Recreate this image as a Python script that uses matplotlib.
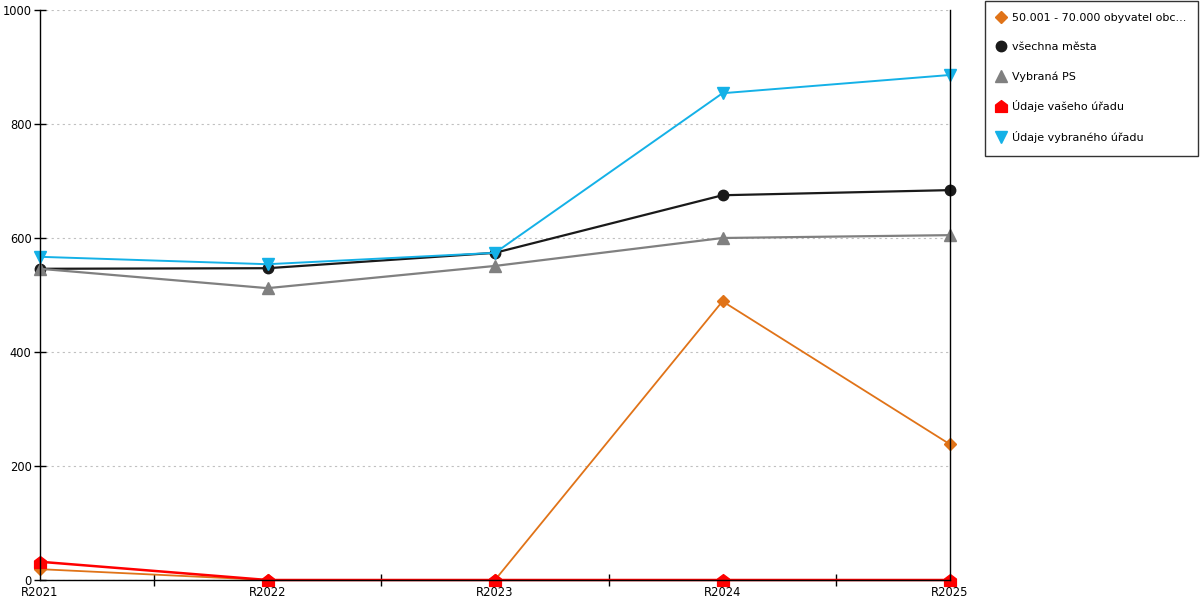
import matplotlib.pyplot as plt
from matplotlib.path import Path
from matplotlib.ticker import FixedLocator

plt.rcParams['font.family'] = ['DejaVu Sans']

years = ["R2021", "R2022", "R2023", "R2024", "R2025"]

obyvatel = [19, 0, 0, 489, 238]
vsechna_mesta = [546, 547, 574, 675, 684]
vybrana_ps = [546, 512, 551, 600, 605]
vas_urad = [32, 0, 0, 0, 0]
vybrany_urad = [567, 554, 574, 854, 886]

labels = ["50.001 - 70.000 obyvatel obc...", "všechna města", "Vybraná PS",
          "Údaje vašeho úřadu", "Údaje vybraného úřadu"]

# house-shaped marker for the red series
house = Path([(-1, -1), (1, -1), (1, 0.25), (0, 1), (-1, 0.25), (-1, -1)],
             [Path.MOVETO, Path.LINETO, Path.LINETO, Path.LINETO, Path.LINETO, Path.CLOSEPOLY])

fig = plt.figure(figsize=(12, 6), dpi=100)
ax = fig.add_axes([40 / 1200, 20 / 600, 910 / 1200, 570 / 600])

x = list(range(len(years)))
series = [
    (obyvatel, "#E07318", "D", 6, 1.3),
    (vsechna_mesta, "#1a1a1a", "o", 7.5, 1.6),
    (vybrana_ps, "#808080", "^", 8, 1.6),
    (vas_urad, "#FF0000", house, 8.5, 1.8),
    (vybrany_urad, "#14B1E7", "v", 8.5, 1.4),
]
for (vals, col, mk, ms, lw), lab in zip(series, labels):
    ax.plot(x, vals, color=col, marker=mk, markersize=ms, linewidth=lw,
            label=lab, clip_on=False)

ax.set_xlim(0, 4)
ax.set_ylim(0, 1000)
ax.set_xticks(x)
ax.set_xticklabels(years, fontsize=8.3)
ax.xaxis.set_minor_locator(FixedLocator([0.5, 1.5, 2.5, 3.5]))
ax.set_yticks([0, 200, 400, 600, 800, 1000])
ax.tick_params(axis='y', labelsize=8.3, direction='inout', length=8, width=1, pad=2)
ax.tick_params(axis='x', which='major', length=0, pad=4)
ax.tick_params(axis='x', which='minor', direction='inout', length=8, width=1)
ax.grid(axis='y', color='#c0c0c0', linestyle=(0, (2, 3)), linewidth=0.8)
ax.spines['top'].set_visible(False)
for s in ['left', 'right', 'bottom']:
    ax.spines[s].set_color('black')
    ax.spines[s].set_linewidth(1)

leg = fig.legend(loc='upper left', bbox_to_anchor=(985 / 1200, 1 - 1 / 600),
                 fontsize=8.0, frameon=True, fancybox=False, labelspacing=1.7,
                 handlelength=0.6, handletextpad=0.7, borderpad=1.1,
                 borderaxespad=0, markerscale=1.0)
leg.get_frame().set_edgecolor('black')
leg.get_frame().set_linewidth(1)
for h in leg.legend_handles:
    h.set_linestyle('none')

fig.savefig("out.png", dpi=100)
